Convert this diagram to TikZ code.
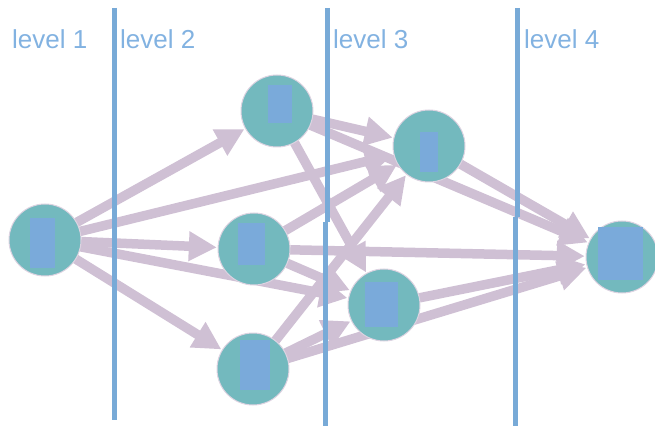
\documentclass[tikz,border=0pt]{standalone}
\usepackage{fontspec}
\setmainfont{Liberation Sans}
\usetikzlibrary{arrows.meta}
\definecolor{teal1}{RGB}{115,185,190}
\definecolor{iconblue}{RGB}{122,170,218}
\definecolor{lineblue}{RGB}{120,170,215}
\definecolor{labelblue}{RGB}{130,178,225}
\definecolor{lav}{RGB}{207,192,212}
\tikzset{
  vnode/.style={circle,fill=teal1,draw=lav!70,line width=1pt,minimum size=72pt,inner sep=0pt},
  edge/.style={draw=lav,line width=9.5pt,-{Triangle[length=28pt,width=28pt]},shorten >=1pt},
  icon/.style={fill=iconblue},
  divider/.style={draw=lineblue,line width=5pt},
  lvl/.style={text=labelblue,font=\fontsize{26}{28}\selectfont,anchor=base west,inner sep=0pt}
}
\begin{document}
\begin{tikzpicture}[x=1pt,y=-1pt]
\useasboundingbox (0,0) rectangle (655,427);
% node positions
\coordinate (pA) at (45,240);
\coordinate (pB1) at (277,111);
\coordinate (pB2) at (254,249);
\coordinate (pB3) at (253,369);
\coordinate (pC1) at (429,146);
\coordinate (pC2) at (384,305);
\coordinate (pD) at (622,257);
% invisible nodes for edge clipping
\foreach \n in {A,B1,B2,B3,C1,C2,D}{
  \node[circle,minimum size=72pt,inner sep=0pt] (\n) at (p\n) {};
}
% edges
\draw[edge] (A) -- (B1);
\draw[edge] (A) -- (B2);
\draw[edge] (A) -- (B3);
\draw[edge] (A) -- (C1);
\draw[edge] (A) -- (C2);
\draw[edge] (B1) -- (C1);
\draw[edge] (B1) -- (C2);
\draw[edge] (B1) -- (D);
\draw[edge] (B2) -- (C1);
\draw[edge] (B2) -- (C2);
\draw[edge] (B2) -- (D);
\draw[edge] (B3) -- (C1);
\draw[edge] (B3) -- (C2);
\draw[edge] (B3) -- (D);
\draw[edge] (C1) -- (D);
\draw[edge] (C2) -- (D);
% visible nodes
\foreach \n in {A,B1,B2,B3,C1,C2,D}{
  \node[vnode] (v\n) at (p\n) {};
}
% icons
\fill[icon] ([shift={(-15,-22)}]vA.center) rectangle ([shift={(10,28)}]vA.center);
\fill[icon] ([shift={(-9,-26)}]vB1.center) rectangle ([shift={(15,12)}]vB1.center);
\fill[icon] ([shift={(-16,-26)}]vB2.center) rectangle ([shift={(11,16)}]vB2.center);
\fill[icon] ([shift={(-13,-29)}]vB3.center) rectangle ([shift={(17,21)}]vB3.center);
\fill[icon] ([shift={(-9,-14)}]vC1.center) rectangle ([shift={(9,26)}]vC1.center);
\fill[icon] ([shift={(-19,-23)}]vC2.center) rectangle ([shift={(14,22)}]vC2.center);
\fill[icon] ([shift={(-24,-30)}]vD.center) rectangle ([shift={(21,23)}]vD.center);
% dividers
\coordinate (l1t) at (114,8);
\coordinate (l1b) at (114,420);
\coordinate (l2t) at (327.5,8);
\coordinate (l2m) at (327.5,222);
\coordinate (l2n) at (325.5,222);
\coordinate (l2b) at (325.5,426);
\coordinate (l3t) at (517.5,8);
\coordinate (l3m) at (517.5,217);
\coordinate (l3n) at (515.5,217);
\coordinate (l3b) at (515.5,426);
\draw[divider] (l1t) -- (l1b);
\draw[divider] (l2t) -- (l2m);
\draw[divider] (l2n) -- (l2b);
\draw[divider] (l3t) -- (l3m);
\draw[divider] (l3n) -- (l3b);
% labels
\node[lvl] (t1) at (12,49) {level 1};
\node[lvl] (t2) at (120,49) {level 2};
\node[lvl] (t3) at (333,49) {level 3};
\node[lvl] (t4) at (524,49) {level 4};
\end{tikzpicture}
\end{document}
